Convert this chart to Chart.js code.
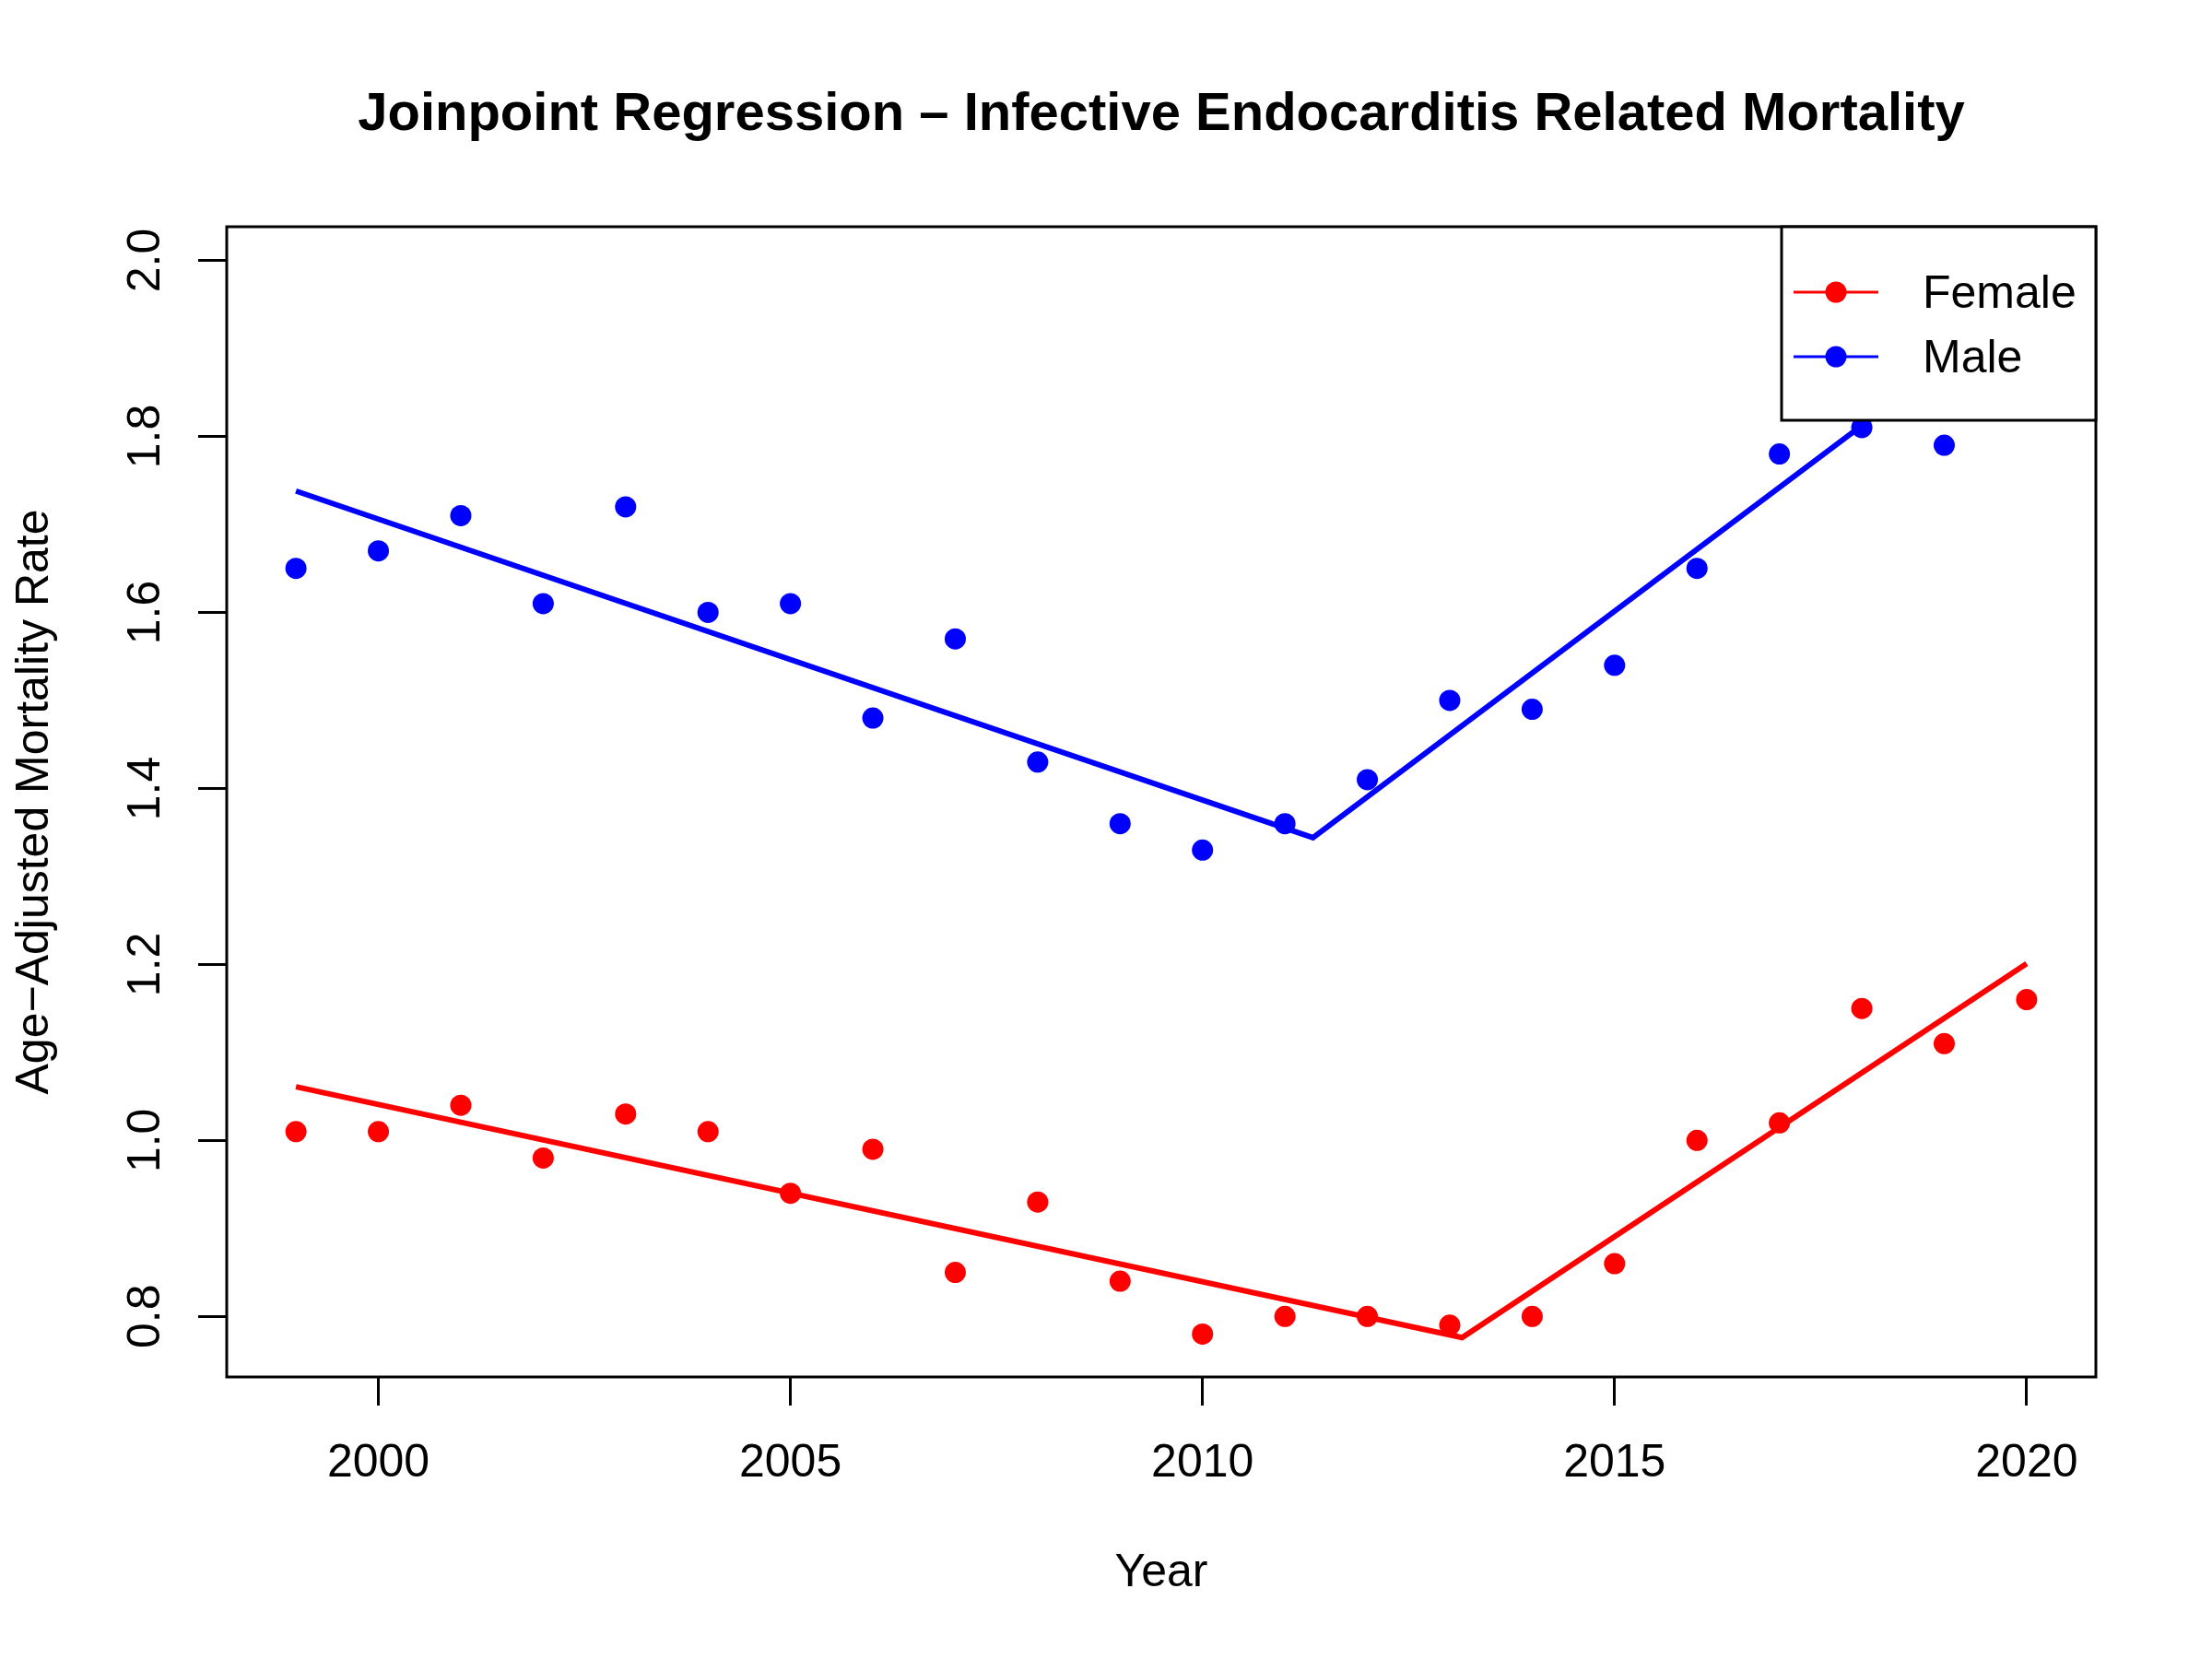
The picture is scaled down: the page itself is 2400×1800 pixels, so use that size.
<!DOCTYPE html>
<html>
<head>
<meta charset="utf-8">
<script src="https://cdn.jsdelivr.net/npm/chart.js@4.4.1/dist/chart.umd.min.js"></script>
<style>
  body { margin: 0; background: #fff; }
  #wrap { width: 2400px; height: 1800px; }
</style>
</head>
<body>
<div id="wrap"><canvas id="jpChart" width="2400" height="1800"></canvas></div>
<script>
// observed rates
const years = [1999, 2000, 2001, 2002, 2003, 2004, 2005, 2006, 2007, 2008, 2009, 2010,
               2011, 2012, 2013, 2014, 2015, 2016, 2017, 2018, 2019, 2020];
const femaleRate = [1.01, 1.01, 1.04, 0.98, 1.03, 1.01, 0.94, 0.99, 0.85, 0.93, 0.84, 0.78,
                    0.80, 0.80, 0.79, 0.80, 0.86, 1.00, 1.02, 1.15, 1.11, 1.16];
const maleRate = [1.65, 1.67, 1.71, 1.61, 1.72, 1.60, 1.61, 1.48, 1.57, 1.43, 1.36, 1.33,
                  1.36, 1.41, 1.50, 1.49, 1.54, 1.65, 1.78, 1.81, 1.79, 1.93];

// joinpoint fitted segments
const femaleFitYears = [1999, 2013.15, 2020];
const femaleFitRates = [1.061, 0.776, 1.201];
const maleFitYears = [1999, 2011.34, 2020];
const maleFitRates = [1.738, 1.344, 1.953];

const seriesNames = ['Female', 'Male'];
const seriesColors = ['#ff0000', '#0000ff'];

const xTicks = [2000, 2005, 2010, 2015, 2020];
const yTicks = [0.8, 1.0, 1.2, 1.4, 1.6, 1.8, 2.0];

function toPoints(xs, ys) {
    return xs.map((x, i) => ({ x: x, y: ys[i] }));
}

const FONT = '"Liberation Sans", Arial, Helvetica, sans-serif';

// frame, rotated y labels and legend box, drawn the R way
const rStylePlugin = {
    id: 'rStyle',
    afterDatasetsDraw(chart) {
        const ctx = chart.ctx;
        const area = chart.chartArea;
        const yScale = chart.scales.y;

        ctx.save();
        // plot box
        ctx.strokeStyle = '#000';
        ctx.lineWidth = 3;
        ctx.strokeRect(area.left, area.top, area.right - area.left, area.bottom - area.top);

        // y tick labels, vertical
        ctx.fillStyle = '#000';
        ctx.font = '50px ' + FONT;
        ctx.textAlign = 'center';
        ctx.textBaseline = 'middle';
        yTicks.forEach(v => {
            const py = yScale.getPixelForValue(v);
            ctx.save();
            ctx.translate(area.left - 87, py);
            ctx.rotate(-Math.PI / 2);
            ctx.fillText(v.toFixed(1), 0, 0);
            ctx.restore();
        });

        // legend, top right
        const lw = 341, lh = 210;
        const lx = area.right - lw, ly = area.top;
        ctx.fillStyle = '#fff';
        ctx.fillRect(lx, ly, lw, lh);
        ctx.strokeStyle = '#000';
        ctx.lineWidth = 3;
        ctx.strokeRect(lx, ly, lw, lh);
        seriesNames.forEach((name, i) => {
            const cy = ly + 71 + i * 70;
            ctx.strokeStyle = seriesColors[i];
            ctx.lineWidth = 3;
            ctx.beginPath();
            ctx.moveTo(lx + 13, cy);
            ctx.lineTo(lx + 105, cy);
            ctx.stroke();
            ctx.fillStyle = seriesColors[i];
            ctx.beginPath();
            ctx.arc(lx + 59, cy, 11.5, 0, Math.PI * 2);
            ctx.fill();
            ctx.fillStyle = '#000';
            ctx.textAlign = 'left';
            ctx.textBaseline = 'middle';
            ctx.font = '50px ' + FONT;
            ctx.fillText(name, lx + 153, cy + 3);
        });
        ctx.restore();
    }
};

document.addEventListener('DOMContentLoaded', function() {
    const ctx = document.getElementById('jpChart');
    new Chart(ctx, {
        type: 'scatter',
        data: {
            datasets: [
                {
                    type: 'line',
                    label: seriesNames[0] + ' fit',
                    data: toPoints(femaleFitYears, femaleFitRates),
                    borderColor: seriesColors[0],
                    borderWidth: 6,
                    pointRadius: 0,
                    fill: false,
                    tension: 0,
                    order: 0
                },
                {
                    type: 'line',
                    label: seriesNames[1] + ' fit',
                    data: toPoints(maleFitYears, maleFitRates),
                    borderColor: seriesColors[1],
                    borderWidth: 6,
                    pointRadius: 0,
                    fill: false,
                    tension: 0,
                    order: 0
                },
                {
                    label: seriesNames[0],
                    data: toPoints(years, femaleRate),
                    backgroundColor: seriesColors[0],
                    borderWidth: 0,
                    pointRadius: 11.5,
                    order: 1
                },
                {
                    label: seriesNames[1],
                    data: toPoints(years, maleRate),
                    backgroundColor: seriesColors[1],
                    borderWidth: 0,
                    pointRadius: 11.5,
                    order: 1
                }
            ]
        },
        options: {
            responsive: false,
            devicePixelRatio: 1,
            animation: false,
            clip: false,
            layout: { padding: { left: 0, right: 126, top: 0, bottom: 0 } },
            plugins: {
                legend: { display: false },
                tooltip: { enabled: false },
                title: {
                    display: true,
                    fullSize: false,
                    text: 'Joinpoint Regression \u2013 Infective Endocarditis Related Mortality',
                    color: '#000',
                    font: { family: FONT, size: 58, weight: 'bold', lineHeight: 1.2 },
                    padding: { top: 90, bottom: 86.4 }
                }
            },
            scales: {
                x: {
                    type: 'linear',
                    min: 1998.16,
                    max: 2020.84,
                    afterBuildTicks: function(scale) {
                        scale.ticks = xTicks.map(v => ({ value: v }));
                    },
                    afterFit: function(scale) { scale.height = 306; },
                    border: { display: false },
                    grid: {
                        drawOnChartArea: false,
                        drawTicks: true,
                        tickLength: 31,
                        tickWidth: 3,
                        tickColor: '#000'
                    },
                    ticks: {
                        color: '#000',
                        padding: 33,
                        maxRotation: 0,
                        font: { family: FONT, size: 50, lineHeight: 1.2 },
                        callback: function(value) { return String(value); }
                    },
                    title: {
                        display: true,
                        text: 'Year',
                        color: '#000',
                        font: { family: FONT, size: 50, lineHeight: 1.2 },
                        padding: { top: 0, bottom: 63 }
                    }
                },
                y: {
                    type: 'linear',
                    min: 0.7312,
                    max: 2.0383,
                    afterBuildTicks: function(scale) {
                        scale.ticks = yTicks.map(v => ({ value: v }));
                    },
                    afterFit: function(scale) { scale.width = 246; },
                    border: { display: false },
                    grid: {
                        drawOnChartArea: false,
                        drawTicks: true,
                        tickLength: 31,
                        tickWidth: 3,
                        tickColor: '#000'
                    },
                    ticks: { display: false },
                    title: {
                        display: true,
                        text: 'Age\u2212Adjusted Mortality Rate',
                        color: '#000',
                        font: { family: FONT, size: 50, lineHeight: 1.2 },
                        padding: { top: 8, bottom: 0 }
                    }
                }
            }
        },
        plugins: [rStylePlugin]
    });
});
</script>
</body>
</html>
